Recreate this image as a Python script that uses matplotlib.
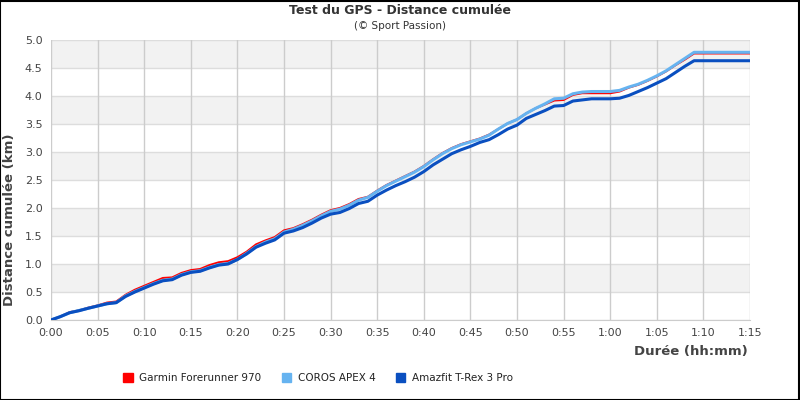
import numpy as np
import matplotlib
matplotlib.use("Agg")
import matplotlib.pyplot as plt
from matplotlib.patches import Rectangle

# elapsed time in minutes
minutes = list(range(0, 76))

garmin = [0.00, 0.06, 0.14, 0.17, 0.22, 0.26, 0.31, 0.33, 0.45, 0.54,
          0.61, 0.68, 0.75, 0.76, 0.84, 0.89, 0.91, 0.98, 1.03, 1.05,
          1.12, 1.22, 1.35, 1.42, 1.48, 1.60, 1.64, 1.71, 1.79, 1.88,
          1.96, 2.00, 2.07, 2.16, 2.20, 2.31, 2.41, 2.49, 2.57, 2.65,
          2.75, 2.87, 2.98, 3.07, 3.14, 3.19, 3.24, 3.31, 3.41, 3.51,
          3.58, 3.69, 3.78, 3.85, 3.92, 3.93, 4.02, 4.05, 4.05, 4.05,
          4.05, 4.08, 4.15, 4.20, 4.27, 4.35, 4.44, 4.55, 4.65, 4.76,
          4.76, 4.76, 4.76, 4.76, 4.76, 4.76]

coros = [0.00, 0.06, 0.13, 0.17, 0.21, 0.25, 0.29, 0.31, 0.43, 0.51,
         0.58, 0.65, 0.71, 0.73, 0.81, 0.86, 0.88, 0.94, 0.99, 1.01,
         1.08, 1.19, 1.31, 1.39, 1.45, 1.57, 1.62, 1.69, 1.77, 1.86,
         1.94, 1.98, 2.05, 2.14, 2.19, 2.30, 2.40, 2.48, 2.56, 2.64,
         2.74, 2.86, 2.97, 3.06, 3.13, 3.18, 3.23, 3.30, 3.41, 3.51,
         3.58, 3.69, 3.78, 3.86, 3.95, 3.96, 4.04, 4.07, 4.08, 4.08,
         4.08, 4.10, 4.16, 4.21, 4.28, 4.36, 4.45, 4.56, 4.67, 4.78,
         4.78, 4.78, 4.78, 4.78, 4.78, 4.78]

amazfit = [0.00, 0.06, 0.13, 0.165, 0.21, 0.25, 0.29, 0.31, 0.42, 0.50,
           0.57, 0.64, 0.70, 0.72, 0.80, 0.85, 0.87, 0.93, 0.98, 1.00,
           1.08, 1.18, 1.30, 1.37, 1.43, 1.55, 1.59, 1.65, 1.73, 1.82,
           1.89, 1.92, 1.99, 2.08, 2.12, 2.23, 2.32, 2.40, 2.47, 2.55,
           2.65, 2.77, 2.87, 2.97, 3.04, 3.10, 3.17, 3.22, 3.31, 3.41,
           3.48, 3.60, 3.67, 3.74, 3.82, 3.83, 3.91, 3.93, 3.95, 3.95,
           3.95, 3.96, 4.01, 4.08, 4.15, 4.23, 4.31, 4.42, 4.53, 4.63,
           4.63, 4.63, 4.63, 4.63, 4.63, 4.63]

series_names = ["Garmin Forerunner 970", "COROS APEX 4", "Amazfit T-Rex 3 Pro"]
series_colors = ["#ff0000", "#66b3f0", "#0a4fc0"]
series_widths = [1.5, 2.2, 2.2]

x_ticks = list(range(0, 80, 5))
y_ticks = [0.0, 0.5, 1.0, 1.5, 2.0, 2.5, 3.0, 3.5, 4.0, 4.5, 5.0]


def hhmm(m):
    return f"{m // 60}:{m % 60:02d}"


fig = plt.figure(figsize=(8, 4), dpi=100)
fig.patch.set_facecolor("white")
fig.add_artist(Rectangle((0.0005, 0.001), 0.998, 0.997, transform=fig.transFigure,
                         fill=False, edgecolor="black", linewidth=1.5))

ax = fig.add_axes([51 / 800, 80 / 400, 699 / 800, 280 / 400])

# alternating bands
for i in range(len(y_ticks) - 1):
    if i % 2 == 1:
        ax.axhspan(y_ticks[i], y_ticks[i + 1], color="#f2f2f2", zorder=0, lw=0)
for y in y_ticks:
    ax.axhline(y, color="#dddddd", lw=1, zorder=1)
for x in x_ticks:
    ax.axvline(x, color="#cccccc", lw=1, zorder=1)

for vals, name, col, lw in zip([garmin, coros, amazfit], series_names,
                               series_colors, series_widths):
    ax.plot(minutes, vals, color=col, lw=lw, label=name, zorder=3)

ax.set_xlim(0, 75)
ax.set_ylim(0, 5)
ax.set_xticks(x_ticks)
ax.set_xticklabels([hhmm(m) for m in x_ticks])
ax.set_yticks(y_ticks)
ax.set_yticklabels([f"{v:.1f}" for v in y_ticks])
ax.tick_params(length=0, labelsize=8, colors="#444444", pad=6)
for s in ax.spines.values():
    s.set_visible(False)
ax.spines["bottom"].set_visible(True)
ax.spines["bottom"].set_color("#cccccc")

fig.text(0.5, 1 - 11 / 400, "Test du GPS - Distance cumulée", ha="center", va="center",
         fontsize=9, fontweight="bold", color="#333333")
fig.text(0.5, 1 - 26 / 400, "(© Sport Passion)", ha="center", va="center",
         fontsize=7.5, color="#333333")
fig.text(10 / 800, 180 / 400, "Distance cumulée (km)", rotation=90, ha="center",
         va="center", fontsize=9.5, fontweight="bold", color="#444444")
fig.text(748 / 800, 1 - 352 / 400, "Durée (hh:mm)", ha="right", va="center",
         fontsize=9.5, fontweight="bold", color="#444444")

leg = fig.legend(loc="center", bbox_to_anchor=(318 / 800, 1 - 378 / 400), ncol=3,
                 frameon=False, fontsize=7.5, handlelength=0.9, handleheight=0.9,
                 columnspacing=2.0, handletextpad=0.6,
                 handles=[Rectangle((0, 0), 1, 1, color=c) for c in series_colors],
                 labels=series_names)
for t in leg.get_texts():
    t.set_color("#222222")

fig.savefig("out.png", dpi=100)
